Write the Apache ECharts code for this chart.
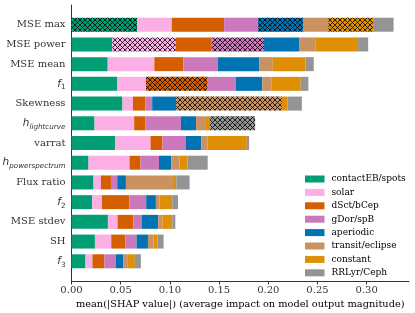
<!DOCTYPE html>
<html><head><meta charset="utf-8">
<script src="https://cdn.jsdelivr.net/npm/echarts@6/dist/echarts.min.js"></script>
<style>html,body{margin:0;padding:0;background:#fff}#c{width:415px;height:313px}</style>
</head><body><div id="c"></div>
<script>
const categories = ['MSE max','MSE power','MSE mean','f1','Skewness','h_lightcurve','varrat','h_powerspectrum','Flux ratio','f2','MSE stdev','SH','f3'];
const classNames = ['contactEB/spots','solar','dSct/bCep','gDor/spB','aperiodic','transit/eclipse','constant','RRLyr/Ceph'];
const contactEB = [0.0669,0.0415,0.0368,0.0465,0.0518,0.0234,0.0444,0.0173,0.0224,0.0210,0.0370,0.0238,0.0142];
const solar     = [0.0350,0.0644,0.0474,0.0292,0.0106,0.0403,0.0359,0.0417,0.0075,0.0099,0.0098,0.0166,0.0071];
const dSct      = [0.0532,0.0366,0.0295,0.0627,0.0125,0.0115,0.0122,0.0112,0.0102,0.0280,0.0160,0.0142,0.0122];
const gDor      = [0.0346,0.0532,0.0350,0.0288,0.0071,0.0360,0.0238,0.0187,0.0064,0.0170,0.0084,0.0115,0.0116];
const aperiodic = [0.0461,0.0356,0.0420,0.0267,0.0244,0.0155,0.0155,0.0125,0.0088,0.0099,0.0170,0.0116,0.0077];
const transit   = [0.0251,0.0170,0.0139,0.0096,0.1074,0.0091,0.0064,0.0084,0.0478,0.0037,0.0041,0.0057,0.0038];
const constant  = [0.0461,0.0430,0.0331,0.0295,0.0057,0.0051,0.0400,0.0081,0.0034,0.0129,0.0102,0.0041,0.0078];
const rrlyr     = [0.0203,0.0102,0.0085,0.0077,0.0146,0.0457,0.0023,0.0205,0.0135,0.0058,0.0030,0.0061,0.0061];
const hatchedIdx = [[0],[1],[3],[1],[0],[4],[0],[5]];
const xTicks = [0,0.05,0.10,0.15,0.20,0.25,0.30];

const colors = ['#029e73','#fbafe4','#d55e00','#cc78bc','#0173b2','#ca9161','#de8f05','#949494'];
const allVals = [contactEB,solar,dSct,gDor,aperiodic,transit,constant,rrlyr];

function hatch(color){
  const p = 5;
  const c = document.createElement('canvas');
  c.width = p; c.height = p;
  const g = c.getContext('2d');
  g.fillStyle = color; g.fillRect(0,0,p,p);
  g.strokeStyle = 'rgba(0,0,0,0.8)'; g.lineWidth = 1;
  g.beginPath();
  g.moveTo(-1,-1); g.lineTo(p+1,p+1);
  g.moveTo(-1,p+1); g.lineTo(p+1,-1);
  g.stroke();
  return {image: c, repeat: 'repeat'};
}

const series = allVals.map((vals, k) => ({
  name: classNames[k],
  type: 'bar',
  stack: 'all',
  barWidth: 14,
  itemStyle: {color: colors[k]},
  data: [null].concat(vals.map((v, i) => hatchedIdx[k].includes(i) ? {value: v, itemStyle: {color: hatch(colors[k])}} : v)).concat([null])
}));

const labelMap = {
  'f1': '{fi|f}{fs|1}', 'f2': '{fi|f}{fs|2}', 'f3': '{fi|f}{fs|3}',
  'h_lightcurve': '{fi|h}{fsi|lightcurve}', 'h_powerspectrum': '{fi|h}{fsi|powerspectrum}'
};

const chart = echarts.init(document.getElementById('c'), null, {renderer: 'canvas'});
chart.setOption({
  animation: false,
  backgroundColor: '#fff',
  grid: {left: 71.5, right: 6, top: 5, bottom: 32, containLabel: false, outerBoundsMode: 'none'},
  legend: {
    orient: 'vertical', left: 300, top: 169,
    itemWidth: 19.5, itemHeight: 7, itemGap: 3.4,
    icon: 'rect',
    data: classNames,
    textStyle: {fontFamily: 'DejaVu Serif', fontSize: 9, color: '#000', lineHeight: 10, padding: [0,0,0,2]}
  },
  xAxis: {
    type: 'value', min: 0, max: 0.343,
    splitLine: {show: false},
    axisLine: {show: true, lineStyle: {color: '#333', width: 1}},
    axisTick: {show: true, length: 3.5, lineStyle: {color: '#333'}, customValues: xTicks},
    axisLabel: {fontFamily: 'DejaVu Serif', fontSize: 10, color: '#333', margin: 4, customValues: xTicks,
      formatter: v => v.toFixed(2)},
    name: 'mean(|SHAP value|) (average impact on model output magnitude)',
    nameLocation: 'middle', nameGap: 15,
    nameTextStyle: {fontFamily: 'DejaVu Serif', fontSize: 9.8, color: '#000'}
  },
  yAxis: {
    type: 'category', inverse: true, boundaryGap: false,
    data: [''].concat(categories).concat(['']),
    axisLine: {show: true, lineStyle: {color: '#333', width: 1}},
    axisTick: {show: false},
    splitLine: {show: false},
    axisLabel: {
      interval: 0, margin: 6, fontFamily: 'DejaVu Serif', fontSize: 10, color: '#333',
      formatter: v => labelMap[v] || v,
      rich: {
        fi: {fontFamily: 'DejaVu Sans', fontStyle: 'italic', fontSize: 10.5, color: '#333'},
        fs: {fontFamily: 'DejaVu Sans', fontSize: 7.2, color: '#333', padding: [7,0,0,0]},
        fsi: {fontFamily: 'DejaVu Sans', fontStyle: 'italic', fontSize: 7.2, color: '#333', padding: [7,0,0,0]}
      }
    }
  },
  series: series
});
</script></body></html>
